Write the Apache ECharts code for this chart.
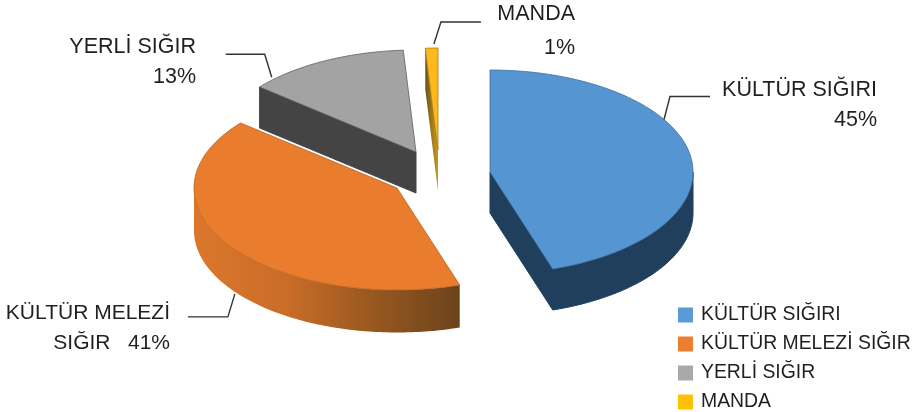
<!DOCTYPE html>
<html>
<head>
<meta charset="utf-8">
<style>html,body{margin:0;padding:0;background:#fff}#c{width:921px;height:412px}</style>
<script src="https://cdn.jsdelivr.net/npm/echarts@6/dist/echarts.min.js"></script>
</head>
<body>
<div id="c"></div>
<script>
// ---- data ----
const categories = ['KÜLTÜR SIĞIRI', 'KÜLTÜR MELEZİ SIĞIR', 'YERLİ SIĞIR', 'MANDA'];
const shares = [45, 41, 13, 1];
const labelFirstLines = ['KÜLTÜR SIĞIRI', 'KÜLTÜR MELEZİ', 'YERLİ SIĞIR', 'MANDA'];
const labelPrefixes = ['', 'SIĞIR   ', '', ''];

// ---- layout and style ----
const RX = 203, RY = 102;
const DEPTHS = [41, 42.5, 41, 41];
const CENTERS = [[490, 172], [397, 188], [416, 152], [438, 150]];
const LABEL_RIGHT = [877, 170, 196, 575];
const LABEL_SIZE = [21.5, 21, 21.5, 21.5];
const LABEL_Y = [[90, 120], [313, 343], [47, 77], [14, 48]];
// leader: angle on the rim, [start offset], [elbow offset], [end offset] (px from the rim point)
const LEADERS = [
  {a: 59,    wall: false, s: [0, 0],  e: [6, -23],  t: [46, -23]},
  {a: 233,   wall: true,  s: [0, 2],  e: [-7, 25],  t: [-47, 25]},
  {a: 315.5, wall: false, s: [-2,-2], e: [-9, -25], t: [-48, -25]},
  {a: 358,   wall: false, s: [3, -4], e: [10, -26], t: [50, -26]}
];
const TOP = ['#5596D2', '#EA7C2D', '#A3A3A3', '#FDB91B'];
const EDGE = ['#3F6F9E', '#B9621F', '#5E5E5E', '#A87A12'];
const SWATCH = ['#5B9BD5', '#ED7D31', '#A9A9A9', '#FFC000'];
const WALL = [
  '#1F3F5D',
  {type:'linear',x:0,y:0,x2:1,y2:0,colorStops:[{offset:0,color:'#DB772C'},{offset:.35,color:'#C96D28'},{offset:.7,color:'#94561F'},{offset:1,color:'#6C431C'}]},
  '#444444',
  '#444444'
];
const CUT = [
  '#1F3F5D', '#6C431C', '#444444',
  {type:'linear',x:0,y:0,x2:1,y2:0,colorStops:[{offset:0,color:'#6B5418'},{offset:1,color:'#C99A1A'}]}
];
const TEXT = '#231F20';
const FONT = '"Liberation Sans", Arial, sans-serif';

const total = shares.reduce((a, b) => a + b, 0);
const rad = d => d * Math.PI / 180;
function pt(c, deg, drop) {
  return [c[0] + RX * Math.sin(rad(deg)), c[1] - RY * Math.cos(rad(deg)) + (drop || 0)];
}
function arc(c, from, to, drop) {
  const out = [];
  const n = Math.max(2, Math.ceil(Math.abs(to - from)));
  for (let i = 0; i <= n; i++) out.push(pt(c, from + (to - from) * i / n, drop));
  return out;
}
let acc = 0;
const spans = shares.map(v => { const s = acc; acc += v; return [s / total * 360, acc / total * 360]; });

function renderSlice(i) {
  const c = CENTERS[i], a0 = spans[i][0], a1 = spans[i][1], depth = DEPTHS[i];
  const kids = [];
  const solid = f => typeof f === 'string';
  const poly = (points, fill, stroke, lw) => kids.push({
    type: 'polygon', shape: {points}, style: {fill, stroke, lineWidth: lw}
  });
  const side = (points, fill) => poly(points, fill, solid(fill) ? fill : 'rgba(0,0,0,0)', solid(fill) ? 1 : 0);
  const cutFace = deg => side([c, pt(c, deg), pt(c, deg, depth), [c[0], c[1] + depth]], CUT[i]);
  if (Math.sin(rad(a0)) < -1e-6) cutFace(a0);
  if (Math.sin(rad(a1)) > 1e-6) cutFace(a1);
  const w0 = Math.max(a0, 90), w1 = Math.min(a1, 270);
  if (w1 > w0) side(arc(c, w0, w1).concat(arc(c, w1, w0, depth)), WALL[i]);
  poly([c].concat(arc(c, a0, a1)), TOP[i], EDGE[i], 0.8);

  const L = LEADERS[i], p = pt(c, L.a, L.wall ? depth : 0);
  kids.push({
    type: 'polyline',
    shape: {points: [L.s, L.e, L.t].map(o => [p[0] + o[0], p[1] + o[1]])},
    style: {fill: null, stroke: '#333333', lineWidth: 1.4}
  });
  const lines = [labelFirstLines[i], labelPrefixes[i] + shares[i] + '%'];
  lines.forEach((t, k) => kids.push({
    type: 'text',
    style: {text: t, x: LABEL_RIGHT[i], y: LABEL_Y[i][k], align: 'right', verticalAlign: 'middle',
      fill: TEXT, fontSize: LABEL_SIZE[i], fontFamily: FONT}
  }));
  return {type: 'group', children: kids};
}

const chart = echarts.init(document.getElementById('c'), null, {renderer: 'canvas'});
chart.setOption({
  backgroundColor: '#fff',
  animation: false,
  legend: {
    orient: 'vertical', left: 678, top: 304, height: 125, padding: 0, icon: 'rect',
    itemWidth: 15, itemHeight: 15, itemGap: 7, selectedMode: false,
    data: categories,
    textStyle: {fontSize: 19.4, color: TEXT, fontFamily: FONT, padding: [0, 0, 0, 3], lineHeight: 22}
  },
  series: categories.map((name, i) => ({
    type: 'custom', name, coordinateSystem: 'none', silent: true,
    itemStyle: {color: SWATCH[i]},
    data: [shares[i]],
    renderItem: () => renderSlice(i)
  }))
});
</script>
</body>
</html>
